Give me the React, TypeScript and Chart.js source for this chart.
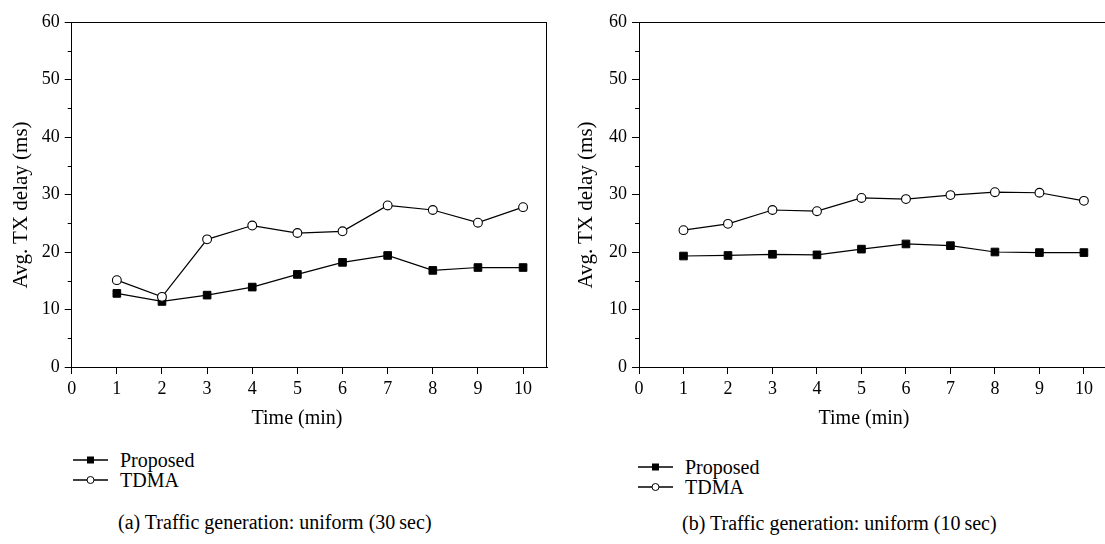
import React, { useEffect, useRef } from "react";
import { Chart, registerables } from "chart.js";

Chart.register(...registerables);

const timeMinutes = [1, 2, 3, 4, 5, 6, 7, 8, 9, 10];
const xTickValues = [0, 1, 2, 3, 4, 5, 6, 7, 8, 9, 10];
const yTickValues = [0, 10, 20, 30, 40, 50, 60];
const yMinorValues = [5, 15, 25, 35, 45, 55];

const proposedA = [12.8, 11.4, 12.5, 13.9, 16.1, 18.2, 19.4, 16.8, 17.3, 17.3];
const tdmaA = [15.1, 12.2, 22.2, 24.6, 23.3, 23.6, 28.1, 27.3, 25.1, 27.8];

const proposedB = [19.3, 19.4, 19.6, 19.5, 20.5, 21.4, 21.1, 20.0, 19.9, 19.9];
const tdmaB = [23.8, 24.9, 27.3, 27.1, 29.4, 29.2, 29.9, 30.4, 30.3, 28.9];

const seriesNames = ["Proposed", "TDMA"];
const xTitle = "Time (min)";
const yTitle = "Avg. TX delay (ms)";
const captionA = "(a) Traffic generation: uniform (30\u2009sec)";
const captionB = "(b) Traffic generation: uniform (10\u2009sec)";

const FONT = "'Liberation Serif', 'Times New Roman', serif";

function makeFramePlugin(drawRight: boolean) {
  return {
    id: "frame",
    afterDraw(chart: any) {
      const { ctx, chartArea } = chart;
      const y = chart.scales.y;
      const top = Math.round(chartArea.top) + 0.5;
      const bottom = Math.round(chartArea.bottom) + 0.5;
      ctx.save();
      ctx.strokeStyle = "#000";
      ctx.lineWidth = 1;
      ctx.beginPath();
      ctx.moveTo(chartArea.left, top);
      ctx.lineTo(drawRight ? chartArea.right : chart.width, top);
      if (drawRight) {
        ctx.moveTo(Math.round(chartArea.right) - 0.5, chartArea.top);
        ctx.lineTo(Math.round(chartArea.right) - 0.5, chartArea.bottom);
      } else {
        ctx.moveTo(chartArea.right - 1, bottom);
        ctx.lineTo(chart.width, bottom);
      }
      for (const v of yMinorValues) {
        const py = Math.round(y.getPixelForValue(v)) + 0.5;
        ctx.moveTo(chartArea.left - 4, py);
        ctx.lineTo(chartArea.left, py);
      }
      ctx.stroke();
      ctx.restore();
    },
  };
}

function Panel(props: {
  left: number;
  canvasWidth: number;
  axisWidth: number;
  padRight: number;
  xMax: number;
  drawRight: boolean;
  proposed: number[];
  tdma: number[];
}) {
  const ref = useRef<HTMLCanvasElement | null>(null);
  useEffect(() => {
    if (!ref.current) return;
    const chart = new Chart(ref.current, {
      type: "line",
      data: {
        datasets: [
          {
            label: seriesNames[0],
            data: timeMinutes.map((t, i) => ({ x: t, y: props.proposed[i] })),
            borderColor: "#000",
            backgroundColor: "#000",
            borderWidth: 1.2,
            pointStyle: "rect",
            pointRadius: 5.4,
            pointBorderWidth: 1,
            pointBackgroundColor: "#000",
            pointBorderColor: "#000",
            order: 1,
          },
          {
            label: seriesNames[1],
            data: timeMinutes.map((t, i) => ({ x: t, y: props.tdma[i] })),
            borderColor: "#000",
            backgroundColor: "#fff",
            borderWidth: 1.2,
            pointStyle: "circle",
            pointRadius: 4.4,
            pointBorderWidth: 1.1,
            pointBackgroundColor: "#fff",
            pointBorderColor: "#000",
            order: 0,
          },
        ],
      },
      options: {
        animation: false,
        responsive: false,
        maintainAspectRatio: false,
        layout: { padding: { top: 22, right: props.padRight, bottom: 0, left: 0 } },
        plugins: { legend: { display: false }, tooltip: { enabled: false }, title: { display: false } },
        scales: {
          x: {
            type: "linear",
            min: 0,
            max: props.xMax,
            afterBuildTicks: (scale: any) => {
              scale.ticks = xTickValues.map((v) => ({ value: v }));
            },
            afterFit: (scale: any) => {
              scale.height = 53;
              scale.paddingLeft = 0;
              scale.paddingRight = 0;
            },
            ticks: {
              color: "#000",
              font: { family: FONT, size: 18 },
              padding: 4,
              maxRotation: 0,
              autoSkip: false,
            },
            grid: { display: true, drawOnChartArea: false, drawTicks: true, tickLength: 7, color: "#000", lineWidth: 1 },
            border: { display: true, color: "#000", width: 1 },
            title: { display: false },
          },
          y: {
            type: "linear",
            min: 0,
            max: 60,
            afterBuildTicks: (scale: any) => {
              scale.ticks = yTickValues.map((v) => ({ value: v }));
            },
            afterFit: (scale: any) => {
              scale.width = props.axisWidth;
            },
            ticks: {
              color: "#000",
              font: { family: FONT, size: 18 },
              padding: 5,
            },
            grid: { display: true, drawOnChartArea: false, drawTicks: true, tickLength: 7, color: "#000", lineWidth: 1 },
            border: { display: true, color: "#000", width: 1 },
            title: { display: false },
          },
        },
      } as any,
      plugins: [makeFramePlugin(props.drawRight)],
    });
    return () => chart.destroy();
  }, []);
  return (
    <canvas
      ref={ref}
      width={props.canvasWidth}
      height={420}
      style={{ position: "absolute", left: props.left, top: 0, width: props.canvasWidth, height: 420 }}
    />
  );
}

const textBase: React.CSSProperties = {
  position: "absolute",
  fontFamily: FONT,
  color: "#000",
  whiteSpace: "nowrap",
};

function XTitle(props: { centerX: number; centerY: number }) {
  return (
    <div style={{ ...textBase, left: props.centerX - 100, width: 200, top: props.centerY - 12, height: 24, lineHeight: "24px", fontSize: 20, textAlign: "center" }}>
      {xTitle}
    </div>
  );
}

function YTitle(props: { centerX: number; centerY: number }) {
  return (
    <div
      style={{
        ...textBase,
        left: props.centerX - 120,
        width: 240,
        top: props.centerY - 12,
        height: 24,
        lineHeight: "24px",
        fontSize: 21,
        textAlign: "center",
        transform: "rotate(-90deg)",
        transformOrigin: "50% 50%",
      }}
    >
      {yTitle}
    </div>
  );
}

function LegendRow(props: { left: number; top: number; label: string; filled: boolean }) {
  return (
    <div style={{ position: "absolute", left: props.left, top: props.top - 12, height: 24, display: "flex", alignItems: "center" }}>
      <svg width={36} height={12} style={{ display: "block" }}>
        <line x1={0} y1={6} x2={35} y2={6} stroke="#000" strokeWidth={1.3} />
        {props.filled ? (
          <rect x={14} y={2.5} width={7} height={7} fill="#000" />
        ) : (
          <circle cx={17.5} cy={6} r={3.5} fill="#fff" stroke="#000" strokeWidth={1} />
        )}
      </svg>
      <span style={{ marginLeft: 11, fontSize: 20, fontFamily: FONT, color: "#000", lineHeight: "24px", whiteSpace: "nowrap" }}>
        {props.label}
      </span>
    </div>
  );
}

function Caption(props: { left: number; top: number; text: string }) {
  return (
    <div style={{ ...textBase, left: props.left, top: props.top - 12, height: 24, lineHeight: "24px", fontSize: 20 }}>
      {props.text}
    </div>
  );
}

export default function App() {
  return (
    <div
      style={{
        position: "absolute",
        left: 0,
        top: 0,
        width: 1105,
        height: 544,
        overflow: "hidden",
        background: "#fff",
      }}
    >
      <Panel left={0} canvasWidth={560} axisWidth={71.7} padRight={13} xMax={10.53} drawRight={true} proposed={proposedA} tdma={tdmaA} />
      <Panel left={565} canvasWidth={540} axisWidth={74} padRight={0} xMax={10.33} drawRight={false} proposed={proposedB} tdma={tdmaB} />
      <XTitle centerX={297} centerY={417} />
      <XTitle centerX={864} centerY={417} />
      <YTitle centerX={20} centerY={205} />
      <YTitle centerX={585} centerY={205} />
      <LegendRow left={73} top={460} label={seriesNames[0]} filled={true} />
      <LegendRow left={73} top={480} label={seriesNames[1]} filled={false} />
      <LegendRow left={638} top={467} label={seriesNames[0]} filled={true} />
      <LegendRow left={638} top={487} label={seriesNames[1]} filled={false} />
      <Caption left={118} top={522} text={captionA} />
      <Caption left={682} top={523} text={captionB} />
    </div>
  );
}
